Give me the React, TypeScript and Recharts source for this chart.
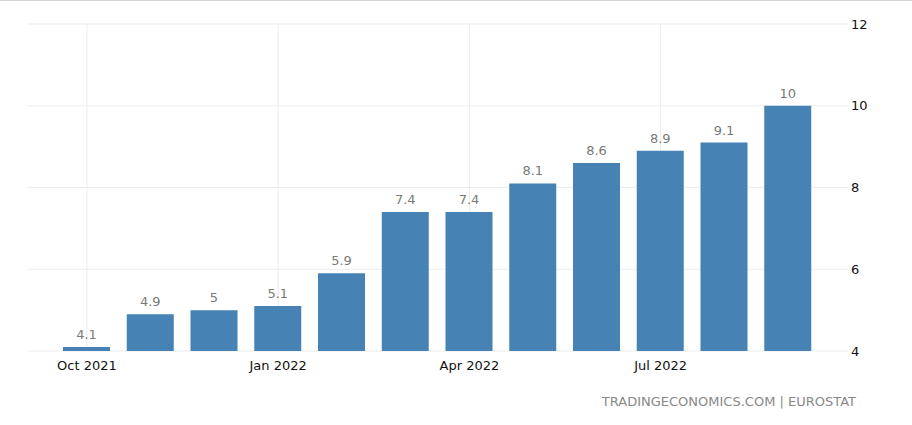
import { BarChart, Bar, XAxis, YAxis, CartesianGrid, LabelList } from "recharts";

const MONTHS = [
  "Oct 2021", "Nov 2021", "Dec 2021", "Jan 2022", "Feb 2022", "Mar 2022",
  "Apr 2022", "May 2022", "Jun 2022", "Jul 2022", "Aug 2022", "Sep 2022",
];
const VALUES = [4.1, 4.9, 5, 5.1, 5.9, 7.4, 7.4, 8.1, 8.6, 8.9, 9.1, 10];
const Y_TICKS = [4, 6, 8, 10, 12];
const X_TICKS = ["Oct 2021", "Jan 2022", "Apr 2022", "Jul 2022"];
const SOURCE = "TRADINGECONOMICS.COM | EUROSTAT";

const FONT = "'DejaVu Sans', sans-serif";
const BAR_COLOR = "#4682b4";
const GRID = "#ececec";

export default function App() {
  const data = MONTHS.map((m, i) => ({ month: m, value: VALUES[i] }));

  return (
    <div
      style={{
        position: "absolute", left: 0, top: 0, width: 912, height: 425,
        background: "#fff", borderTop: "1px solid #d4d4d4", boxSizing: "border-box",
        fontFamily: FONT,
      }}
    >
      <BarChart
        width={912}
        height={424}
        data={data}
        margin={{ top: 23, right: 24, left: 28, bottom: 44 }}
      >
        <CartesianGrid stroke={GRID} syncWithTicks />
        <XAxis
          dataKey="month"
          ticks={X_TICKS}
          interval={0}
          height={30}
          tickLine={false}
          axisLine={false}
          tickSize={0}
          tickMargin={10}
          padding={{ left: 27, right: 28 }}
          tick={{ fontSize: 13, fill: "#111", fontFamily: FONT }}
        />
        <YAxis
          orientation="right"
          domain={[4, 12]}
          ticks={Y_TICKS}
          width={40}
          tickLine={false}
          axisLine={false}
          tickSize={0}
          tickMargin={3}
          tick={{ fontSize: 13, fill: "#111", fontFamily: FONT, textAnchor: "start" }}
        />
        <Bar dataKey="value" fill={BAR_COLOR} barSize={47} isAnimationActive={false}>
          <LabelList
            dataKey="value"
            position="top"
            offset={8}
            style={{ fontSize: 13, fill: "#7a7a7a", fontFamily: FONT }}
          />
        </Bar>
      </BarChart>
      <div
        style={{
          position: "absolute", right: 56, top: 393, fontSize: 13,
          color: "#888", fontFamily: FONT, whiteSpace: "nowrap",
        }}
      >
        {SOURCE}
      </div>
    </div>
  );
}
